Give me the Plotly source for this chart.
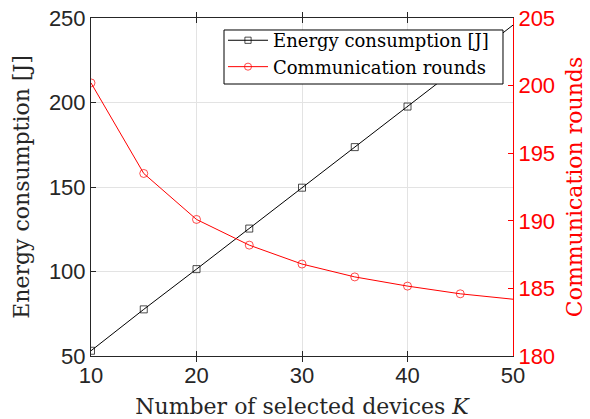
import plotly.graph_objects as go

K = [10, 15, 20, 25, 30, 35, 40, 45, 50]
energy = [53.1, 77.6, 101.4, 125.4, 149.6, 173.6, 197.6, 221.7, 245.8]
rounds = [200.2, 193.5, 190.1, 188.2, 186.8, 185.85, 185.17, 184.6, 184.2]

x_ticks = [10, 20, 30, 40, 50]
y1_ticks = [50, 100, 150, 200, 250]
y2_ticks = [180, 185, 190, 195, 200, 205]

AX = "#262626"
RED = "#ff0000"
SERIF = "DejaVu Serif"
SANS = "Liberation Sans, Arial, sans-serif"

fig = go.Figure()
fig.add_trace(go.Scatter(
    x=K, y=energy, mode="lines+markers", name="Energy consumption [J]",
    line=dict(color="black", width=1),
    marker=dict(symbol="square-open", size=[7] * 8 + [0], color="black", line=dict(width=1)),
))
fig.add_trace(go.Scatter(
    x=K, y=rounds, mode="lines+markers", name="Communication rounds", yaxis="y2",
    line=dict(color=RED, width=1),
    marker=dict(symbol="circle-open", size=[8] * 8 + [0], color=RED, line=dict(width=1)),
))

# legend frame
fig.add_shape(type="rect", xref="paper", yref="paper",
              x0=0.3152, x1=0.9763, y0=0.8047, y1=0.9645,
              line=dict(color="black", width=1), fillcolor="white", layer="above")

fig.update_layout(
    width=590, height=419,
    margin=dict(l=91, r=77, t=18, b=63),
    paper_bgcolor="white", plot_bgcolor="white",
    showlegend=True,
    legend=dict(
        x=0.3128, y=0.988, xanchor="left", yanchor="top",
        bgcolor="rgba(0,0,0,0)", borderwidth=0,
        font=dict(family=SERIF, size=18, color="black"),
        tracegroupgap=0, itemwidth=40,
    ),
    xaxis=dict(
        range=[10, 50], tickvals=x_ticks, showgrid=True, gridcolor="#e3e3e3", gridwidth=1,
        showline=True, linecolor=AX, linewidth=1, mirror="allticks",
        ticks="inside", ticklen=5, tickcolor=AX,
        tickfont=dict(family=SANS, size=22, color=AX),
        title=dict(text="Number of selected devices <i>K</i>", font=dict(family=SERIF, size=22, color=AX), standoff=14),
        zeroline=False, automargin=False, ticklabeloverflow="allow",
    ),
    yaxis=dict(
        range=[50, 250], tickvals=y1_ticks, showgrid=True, gridcolor="#e3e3e3", gridwidth=1,
        showline=True, linecolor=AX, linewidth=1,
        ticks="inside", ticklen=5, tickcolor=AX,
        tickfont=dict(family=SANS, size=22, color=AX),
        title=dict(text="Energy consumption [J]", font=dict(family=SERIF, size=22, color=AX), standoff=13),
        zeroline=False, automargin=False, ticklabeloverflow="allow",
    ),
    yaxis2=dict(
        range=[180, 205], tickvals=y2_ticks, overlaying="y", side="right",
        showgrid=False, showline=True, linecolor=RED, linewidth=1,
        ticks="inside", ticklen=5, tickcolor=RED,
        tickfont=dict(family=SANS, size=22, color=RED),
        title=dict(text="Communication rounds", font=dict(family=SERIF, size=22, color=RED), standoff=12),
        zeroline=False, automargin=False, ticklabeloverflow="allow",
    ),
)

fig.write_html("out.html", config={"displayModeBar": False},
               post_script="document.body.style.margin='0px';")
